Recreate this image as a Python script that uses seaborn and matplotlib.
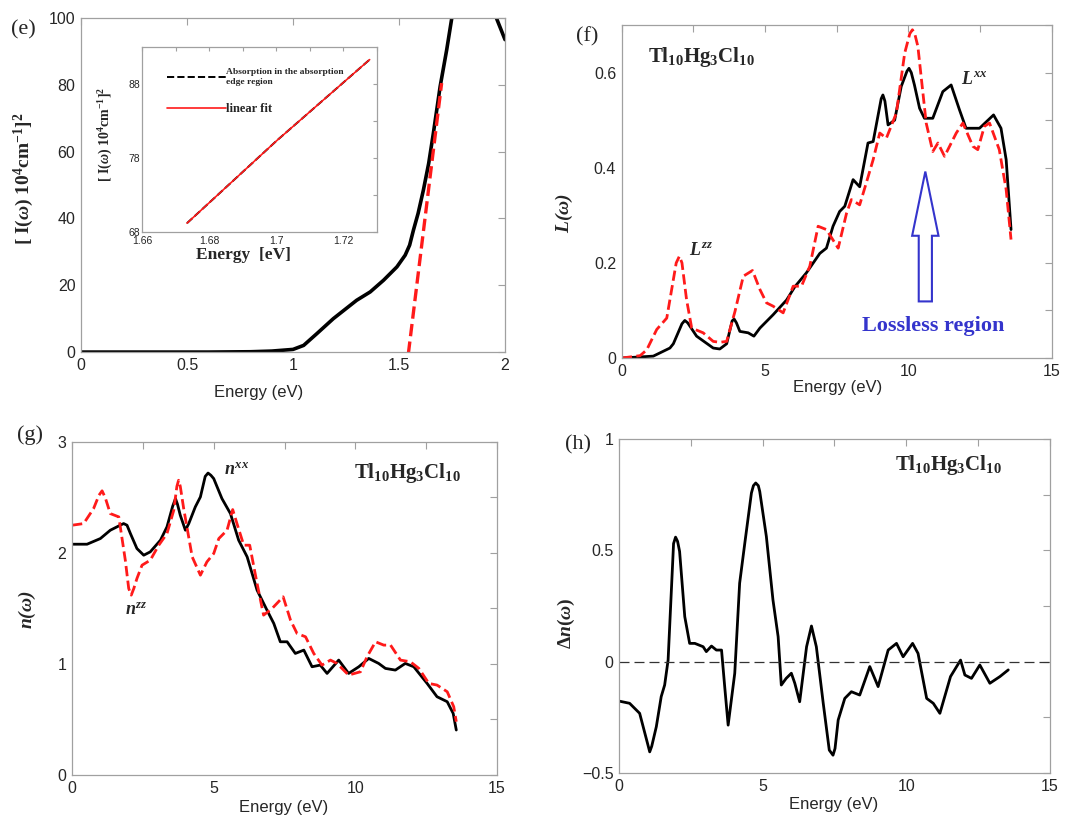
import numpy as np
import matplotlib
matplotlib.use("Agg")
import matplotlib.pyplot as plt
from matplotlib.patches import FancyArrow
from matplotlib.ticker import MultipleLocator, FixedLocator
from matplotlib.lines import Line2D
import seaborn as sns

# ---- (e) absorption edge ----
e_energy = [0.0, 0.3, 0.6, 0.8, 0.9, 1.0, 1.05, 1.112, 1.19, 1.25, 1.30, 1.364, 1.427, 1.49,
            1.529, 1.55, 1.568, 1.59, 1.615, 1.64, 1.662, 1.694, 1.725, 1.749, 1.76]
e_abs = [0.0, 0.0, 0.0, 0.1, 0.3, 0.8, 2.0, 5.5, 10.0, 13.0, 15.5, 18.0, 21.5, 25.5,
         29.0, 32.0, 36.5, 41.5, 48.5, 56.5, 65.5, 79.5, 90.5, 100.0, 106.0]
e_tail_energy = [1.956, 2.0]
e_tail_abs = [100.5, 93.5]
e_fit_energy = [1.544, 1.701]
e_fit_abs = [-0.5, 80.5]

inset_energy = [1.6734, 1.70, 1.7278]
inset_abs = [69.2, 80.3, 91.3]
inset_fit = [69.2, 80.3, 91.3]

# ---- (f) loss function ----
f_xx_energy = [0, 1.1, 1.68, 1.8, 2.1, 2.2, 2.3, 2.61, 3.19, 3.42, 3.66, 3.85, 3.92, 4.0, 4.12,
               4.41, 4.61, 4.82, 5.28, 5.75, 6.04, 6.44, 6.91, 7.14, 7.37, 7.6, 7.78, 8.07, 8.3,
               8.59, 8.77, 9.05, 9.11, 9.18, 9.29, 9.52, 9.75, 9.95, 10.02, 10.1, 10.21, 10.39,
               10.56, 10.85, 11.2, 11.49, 11.78, 12.01, 12.48, 12.97, 13.23, 13.41, 13.58]
f_xx = [0, 0.004, 0.021, 0.03, 0.072, 0.079, 0.074, 0.046, 0.021, 0.019, 0.03, 0.078, 0.082, 0.074,
        0.056, 0.053, 0.046, 0.063, 0.091, 0.122, 0.15, 0.179, 0.22, 0.231, 0.277, 0.308, 0.319,
        0.375, 0.36, 0.452, 0.455, 0.545, 0.553, 0.54, 0.49, 0.50, 0.571, 0.603, 0.609, 0.600,
        0.574, 0.525, 0.504, 0.504, 0.56, 0.574, 0.522, 0.483, 0.483, 0.511, 0.483, 0.417, 0.27]
f_zz_energy = [0, 0.64, 0.87, 1.22, 1.57, 1.9, 2.01, 2.1, 2.26, 2.44, 2.84, 3.19, 3.42, 3.66, 3.95,
               4.24, 4.56, 4.82, 5.05, 5.28, 5.63, 5.98, 6.27, 6.56, 6.85, 7.14, 7.55, 7.84, 8.01,
               8.3, 8.53, 8.77, 9.0, 9.23, 9.58, 9.87, 10.05, 10.14, 10.22, 10.33, 10.62, 10.85,
               11.03, 11.26, 11.67, 11.9, 12.25, 12.42, 12.65, 12.83, 13.17, 13.41, 13.58]
f_zz = [0, 0.005, 0.017, 0.06, 0.084, 0.2, 0.214, 0.2, 0.123, 0.063, 0.053, 0.035, 0.033, 0.035,
        0.098, 0.172, 0.184, 0.144, 0.116, 0.109, 0.095, 0.151, 0.151, 0.193, 0.277, 0.27, 0.231,
        0.304, 0.333, 0.322, 0.368, 0.417, 0.473, 0.462, 0.515, 0.641, 0.682, 0.69, 0.682, 0.655,
        0.494, 0.434, 0.452, 0.424, 0.473, 0.494, 0.445, 0.438, 0.487, 0.494, 0.438, 0.354, 0.249]

# ---- (g) refractive index ----
g_xx_energy = [0, 0.53, 1.0, 1.35, 1.7, 1.82, 1.94, 2.06, 2.29, 2.53, 2.76, 3.12, 3.35, 3.55, 3.65,
               3.72, 3.82, 4.0, 4.12, 4.35, 4.53, 4.7, 4.8, 4.9, 5.0, 5.29, 5.59, 5.88, 6.18, 6.53,
               6.88, 7.12, 7.35, 7.59, 7.88, 8.18, 8.47, 8.76, 9.0, 9.41, 9.76, 10.12, 10.47,
               10.82, 11.06, 11.41, 11.76, 12.06, 12.53, 12.88, 13.24, 13.45, 13.56]
g_xx = [2.079, 2.079, 2.13, 2.205, 2.25, 2.265, 2.25, 2.175, 2.04, 1.98, 2.01, 2.115, 2.235, 2.42,
        2.49, 2.44, 2.34, 2.205, 2.265, 2.415, 2.505, 2.69, 2.72, 2.7, 2.67, 2.49, 2.355, 2.115,
        1.965, 1.665, 1.485, 1.365, 1.2, 1.2, 1.095, 1.125, 0.975, 0.99, 0.915, 1.035, 0.915,
        0.975, 1.05, 1.005, 0.96, 0.945, 1.005, 0.975, 0.825, 0.705, 0.66, 0.555, 0.405]
g_zz_energy = [0, 0.41, 0.76, 0.95, 1.06, 1.17, 1.35, 1.65, 1.88, 2.0, 2.09, 2.18, 2.29, 2.47, 2.76,
               3.06, 3.35, 3.59, 3.7, 3.76, 3.82, 3.94, 4.24, 4.53, 4.76, 5.0, 5.18, 5.47, 5.67,
               5.82, 6.06, 6.27, 6.53, 6.76, 7.06, 7.45, 7.71, 7.94, 8.24, 8.53, 8.82, 9.12, 9.35,
               9.76, 10.18, 10.41, 10.71, 11.0, 11.24, 11.59, 11.94, 12.24, 12.59, 12.88, 13.24,
               13.47, 13.56]
g_zz = [2.25, 2.265, 2.4, 2.52, 2.56, 2.5, 2.355, 2.325, 1.935, 1.68, 1.62, 1.68, 1.77, 1.89, 1.935,
        2.07, 2.175, 2.385, 2.6, 2.655, 2.6, 2.4, 1.965, 1.8, 1.92, 1.995, 2.13, 2.205, 2.391,
        2.265, 2.07, 2.07, 1.725, 1.44, 1.5, 1.605, 1.395, 1.275, 1.245, 1.095, 0.99, 1.035,
        1.005, 0.9, 0.93, 1.065, 1.2, 1.17, 1.17, 1.035, 1.02, 0.96, 0.825, 0.81, 0.75, 0.615,
        0.48]

# ---- (h) birefringence ----
h_energy = [0, 0.37, 0.72, 1.0, 1.07, 1.14, 1.3, 1.47, 1.59, 1.71, 1.83, 1.9, 1.97, 2.04, 2.11, 2.29,
            2.46, 2.64, 2.93, 3.04, 3.22, 3.39, 3.57, 3.68, 3.8, 4.03, 4.2, 4.38, 4.61, 4.68, 4.76,
            4.85, 4.9, 5.13, 5.36, 5.54, 5.65, 5.82, 6.0, 6.12, 6.29, 6.53, 6.7, 6.87, 7.11, 7.32,
            7.45, 7.52, 7.63, 7.86, 8.09, 8.38, 8.73, 9.02, 9.37, 9.66, 9.89, 10.22, 10.41, 10.71,
            10.94, 11.17, 11.54, 11.89, 12.04, 12.27, 12.56, 12.91, 13.26, 13.55]
h_dn = [-0.177, -0.187, -0.232, -0.37, -0.405, -0.38, -0.292, -0.157, -0.105, 0.007, 0.337, 0.53,
        0.559, 0.54, 0.495, 0.202, 0.082, 0.082, 0.067, 0.045, 0.07, 0.052, 0.052, -0.112, -0.285,
        -0.052, 0.352, 0.532, 0.757, 0.79, 0.802, 0.79, 0.764, 0.562, 0.277, 0.112, -0.105, -0.075,
        -0.052, -0.097, -0.18, 0.067, 0.16, 0.067, -0.187, -0.397, -0.42, -0.39, -0.262, -0.165,
        -0.135, -0.15, -0.022, -0.112, 0.052, 0.082, 0.022, 0.082, 0.037, -0.165, -0.187, -0.232,
        -0.067, 0.007, -0.06, -0.075, -0.015, -0.097, -0.067, -0.037]

formula = r"Tl$_{10}$Hg$_{3}$Cl$_{10}$"
RED = "#ff1a1a"
BLUE = "#3434cc"
GREY = "#a0a0a0"

sns.set_theme(style="white")
plt.rcParams["font.family"] = ["Liberation Sans", "DejaVu Sans"]
plt.rcParams["mathtext.fontset"] = "custom"
plt.rcParams["mathtext.rm"] = "Liberation Serif:bold"
plt.rcParams["mathtext.bf"] = "Liberation Serif:bold"
plt.rcParams["mathtext.it"] = "Liberation Serif:italic:bold"

SERIF = ["Liberation Serif", "DejaVu Serif"]

fig = plt.figure(figsize=(10.72, 8.15), dpi=100)
ax_e = fig.add_axes([0.0756, 0.568, 0.3955, 0.410])
ax_f = fig.add_axes([0.580, 0.5607, 0.4011, 0.4086])
ax_g = fig.add_axes([0.0672, 0.0491, 0.3965, 0.4086])
ax_h = fig.add_axes([0.5774, 0.0515, 0.402, 0.410])
ax_in = fig.add_axes([0.1325, 0.7153, 0.2192, 0.227])


def style(ax, size=11.5, length=5):
    for sp in ax.spines.values():
        sp.set_color(GREY)
        sp.set_linewidth(0.9)
    ax.tick_params(which="both", direction="in", top=True, right=True, color=GREY,
                   length=length, width=0.8, labelsize=size, pad=4)


def line(ax, x, y, color, dashed=False, lw=2.0):
    sns.lineplot(x=x, y=y, ax=ax, color=color, lw=lw, sort=False, estimator=None,
                 linestyle="--" if dashed else "-")


fmt = plt.FuncFormatter(lambda v, p: f"{v:g}".replace("-", "\u2212"))

# (e)
line(ax_e, e_energy, e_abs, "black", lw=2.6)
line(ax_e, e_tail_energy, e_tail_abs, "black", lw=2.6)
line(ax_e, e_fit_energy, e_fit_abs, RED, dashed=True, lw=2.4)
ax_e.set_xlim(0, 2)
ax_e.set_ylim(0, 100)
ax_e.xaxis.set_major_locator(MultipleLocator(0.5))
ax_e.yaxis.set_major_locator(MultipleLocator(20))
ax_e.xaxis.set_major_formatter(fmt)
style(ax_e)
ax_e.set_xlabel("Energy (eV)", fontsize=12)
ax_e.xaxis.set_label_coords(0.418, -0.099)
ax_e.set_ylabel(r"[ I($\omega$) 10$^{4}$cm$^{-1}$]$^{2}$", fontsize=14, family=SERIF,
                fontweight="bold")
ax_e.yaxis.set_label_coords(-0.106, 0.52)

# inset
line(ax_in, inset_energy, inset_abs, "black", dashed=True, lw=1.4)
line(ax_in, inset_energy, inset_fit, RED, lw=1.2)
ax_in.set_xlim(1.66, 1.73)
ax_in.set_ylim(68, 93)
ax_in.xaxis.set_major_locator(MultipleLocator(0.02))
ax_in.xaxis.set_minor_locator(MultipleLocator(0.01))
ax_in.yaxis.set_major_locator(FixedLocator([68, 78, 88]))
ax_in.yaxis.set_minor_locator(FixedLocator([73, 83]))
ax_in.xaxis.set_major_formatter(fmt)
style(ax_in, size=7.5, length=3)
ax_in.tick_params(axis="x", pad=3)
ax_in.tick_params(axis="y", pad=1.5)
ax_in.set_xlabel("Energy  [eV]", fontsize=12.5, family=SERIF, fontweight="bold")
ax_in.xaxis.set_label_coords(0.43, -0.08)
ax_in.set_ylabel(r"[ I($\omega$) 10$^{4}$cm$^{-1}$]$^{2}$", fontsize=10, family=SERIF,
                 fontweight="bold")
ax_in.yaxis.set_label_coords(-0.115, 0.53)
handles = [Line2D([], [], color="black", ls="--", lw=1.4),
           Line2D([], [], color=RED, lw=1.2)]
leg = ax_in.legend(handles, ["Absorption in the absorption\nedge region", "linear fit"],
                   loc="upper left", bbox_to_anchor=(0.07, 0.93), frameon=False,
                   handlelength=6.2, handletextpad=0.1, labelspacing=1.8,
                   prop={"family": SERIF, "weight": "bold", "size": 6.8})
leg.get_texts()[1].set_fontsize(9)

# (f)
line(ax_f, f_xx_energy, f_xx, "black", lw=2.0)
line(ax_f, f_zz_energy, f_zz, RED, dashed=True, lw=2.0)
ax_f.set_xlim(0, 15)
ax_f.set_ylim(0, 0.7)
ax_f.xaxis.set_major_locator(MultipleLocator(5))
ax_f.xaxis.set_minor_locator(MultipleLocator(2.5))
ax_f.yaxis.set_major_locator(MultipleLocator(0.2))
ax_f.yaxis.set_minor_locator(MultipleLocator(0.1))
ax_f.yaxis.set_major_formatter(fmt)
style(ax_f)
ax_f.set_xlabel("Energy (eV)", fontsize=12)
ax_f.xaxis.set_label_coords(0.502, -0.066)
ax_f.set_ylabel(r"L($\omega$)", fontsize=14, family=SERIF, fontweight="bold", fontstyle="italic")
ax_f.yaxis.set_label_coords(-0.109, 0.435)
ax_f.text(0.93, 0.633, formula, family=SERIF, fontweight="bold", fontsize=15, va="center")
ax_f.text(2.35, 0.225, r"$L^{zz}$", fontsize=13, va="center")
ax_f.text(11.84, 0.585, r"$L^{xx}$", fontsize=13, va="center")
ax_f.text(10.88, 0.068, "Lossless region", family=SERIF, fontweight="bold", fontsize=16,
          color=BLUE, ha="center", va="center")
ax_f.add_patch(FancyArrow(10.59, 0.119, 0, 0.273, width=0.46, head_width=0.92,
                          head_length=0.135, length_includes_head=True,
                          facecolor="white", edgecolor=BLUE, lw=1.5))

# (g)
line(ax_g, g_xx_energy, g_xx, "black", lw=2.0)
line(ax_g, g_zz_energy, g_zz, RED, dashed=True, lw=2.0)
ax_g.set_xlim(0, 15)
ax_g.set_ylim(0, 3)
ax_g.xaxis.set_major_locator(MultipleLocator(5))
ax_g.xaxis.set_minor_locator(MultipleLocator(2.5))
ax_g.yaxis.set_major_locator(MultipleLocator(1))
ax_g.yaxis.set_minor_locator(MultipleLocator(0.5))
style(ax_g)
ax_g.set_xlabel("Energy (eV)", fontsize=12)
ax_g.xaxis.set_label_coords(0.497, -0.075)
ax_g.set_ylabel(r"n($\omega$)", fontsize=14, family=SERIF, fontweight="bold", fontstyle="italic")
ax_g.yaxis.set_label_coords(-0.08, 0.495)
ax_g.text(9.94, 2.72, formula, family=SERIF, fontweight="bold", fontsize=15, va="center")
ax_g.text(5.35, 2.74, r"$n^{xx}$", fontsize=13, va="center")
ax_g.text(1.88, 1.485, r"$n^{zz}$", fontsize=13, va="center")

# (h)
line(ax_h, h_energy, h_dn, "black", lw=2.0)
ax_h.axhline(0, color="#333333", lw=0.9, ls=(0, (8, 4)))
ax_h.set_xlim(0, 15)
ax_h.set_ylim(-0.5, 1)
ax_h.xaxis.set_major_locator(MultipleLocator(5))
ax_h.xaxis.set_minor_locator(MultipleLocator(2.5))
ax_h.yaxis.set_major_locator(MultipleLocator(0.5))
ax_h.yaxis.set_minor_locator(MultipleLocator(0.25))
ax_h.yaxis.set_major_formatter(fmt)
style(ax_h)
ax_h.set_xlabel("Energy (eV)", fontsize=12)
ax_h.xaxis.set_label_coords(0.497, -0.072)
ax_h.set_ylabel("\u0394" + r"$n$($\omega$)", fontsize=14, family=SERIF, fontweight="bold")
ax_h.yaxis.set_label_coords(-0.097, 0.449)
ax_h.text(9.6, 0.884, formula, family=SERIF, fontweight="bold", fontsize=15, va="center")

# panel letters
for lab, x, y in [("(e)", 0.022, 0.963), ("(f)", 0.548, 0.955),
                  ("(g)", 0.028, 0.466), ("(h)", 0.539, 0.454)]:
    fig.text(x, y, lab, family=SERIF, fontsize=16, ha="center", va="center")

fig.savefig("out.png", dpi=100)
